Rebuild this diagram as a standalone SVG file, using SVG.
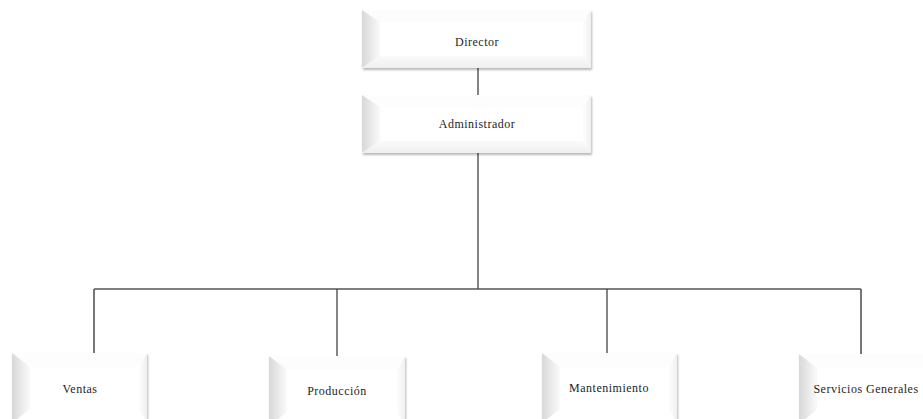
<svg xmlns="http://www.w3.org/2000/svg" width="923" height="419" viewBox="0 0 923 419">
<defs>
<linearGradient id="gl" x1="0" y1="0" x2="1" y2="0"><stop offset="0" stop-color="#d8d8d8"/><stop offset="1" stop-color="#fafafa"/></linearGradient>
<linearGradient id="gr" x1="0" y1="0" x2="1" y2="0"><stop offset="0" stop-color="#fdfdfd"/><stop offset="1" stop-color="#f0f0f0"/></linearGradient>
<linearGradient id="gb" x1="0" y1="0" x2="0" y2="1"><stop offset="0" stop-color="#fafafa"/><stop offset="1" stop-color="#efefef"/></linearGradient>
<filter id="sh" x="-5%" y="-5%" width="115%" height="120%"><feGaussianBlur in="SourceAlpha" stdDeviation="1"/><feOffset dx="1" dy="1.5"/><feComponentTransfer><feFuncA type="linear" slope="0.28"/></feComponentTransfer><feMerge><feMergeNode/><feMergeNode in="SourceGraphic"/></feMerge></filter>
</defs>
<style>
.face{fill:#ffffff}
.top{fill:#fdfdfd}
.lft{fill:url(#gl)}
.rgt{fill:url(#gr)}
.bot{fill:url(#gb)}
.lbl{font-family:"Liberation Serif","Times New Roman",serif;font-size:12px;letter-spacing:0.5px;fill:#1e1e1e;text-anchor:middle}
.conn line{stroke:#333;stroke-width:1.2}
.conn .h{stroke:#555;stroke-width:1.6}
</style>
<rect width="923" height="419" fill="#ffffff"/>
<g class="conn" id="connectors">
<line x1="478" y1="68" x2="478" y2="95"/>
<line x1="478" y1="153" x2="478" y2="289"/>
<line class="h" x1="94" y1="289" x2="861" y2="289"/>
<line class="h" x1="94" y1="289" x2="94" y2="353"/>
<line x1="337" y1="289" x2="337" y2="356"/>
<line x1="607" y1="289" x2="607" y2="353"/>
<line class="h" x1="861" y1="289" x2="861" y2="354"/>
</g>
<g id="director" transform="translate(362,10)">
<g filter="url(#sh)">
<rect class="face" width="229" height="58"/>
<polygon class="top" points="0,0 229,0 221,12 18,12"/>
<polygon class="lft" points="0,0 18,12 18,46 0,58"/>
<polygon class="rgt" points="229,0 229,58 221,46 221,12"/>
<polygon class="bot" points="0,58 229,58 221,46 18,46"/>
</g>
<text class="lbl" x="115" y="36">Director</text>
</g>
<g id="administrador" transform="translate(362,95)">
<g filter="url(#sh)">
<rect class="face" width="229" height="58"/>
<polygon class="top" points="0,0 229,0 221,12 18,12"/>
<polygon class="lft" points="0,0 18,12 18,46 0,58"/>
<polygon class="rgt" points="229,0 229,58 221,46 221,12"/>
<polygon class="bot" points="0,58 229,58 221,46 18,46"/>
</g>
<text class="lbl" x="115" y="33">Administrador</text>
</g>
<g id="ventas" transform="translate(12,353)">
<g filter="url(#sh)">
<rect class="face" width="135" height="70"/>
<polygon class="top" points="0,0 135,0 127,14 18,14"/>
<polygon class="lft" points="0,0 18,14 18,56 0,70"/>
<polygon class="rgt" points="135,0 135,70 127,56 127,14"/>
</g>
<text class="lbl" x="68" y="40">Ventas</text>
</g>
<g id="produccion" transform="translate(269,356)">
<g filter="url(#sh)">
<rect class="face" width="136" height="70"/>
<polygon class="top" points="0,0 136,0 128,14 18,14"/>
<polygon class="lft" points="0,0 18,14 18,56 0,70"/>
<polygon class="rgt" points="136,0 136,70 128,56 128,14"/>
</g>
<text class="lbl" x="68" y="39">Producción</text>
</g>
<g id="mantenimiento" transform="translate(542,353)">
<g filter="url(#sh)">
<rect class="face" width="135" height="70"/>
<polygon class="top" points="0,0 135,0 127,14 18,14"/>
<polygon class="lft" points="0,0 18,14 18,56 0,70"/>
<polygon class="rgt" points="135,0 135,70 127,56 127,14"/>
</g>
<text class="lbl" x="67" y="39">Mantenimiento</text>
</g>
<g id="servicios" transform="translate(799,354)">
<g filter="url(#sh)">
<rect class="face" width="135" height="70"/>
<polygon class="top" points="0,0 135,0 127,14 18,14"/>
<polygon class="lft" points="0,0 18,14 18,56 0,70"/>
<polygon class="rgt" points="135,0 135,70 127,56 127,14"/>
</g>
<text class="lbl" x="67" y="39">Servicios Generales</text>
</g>
</svg>
